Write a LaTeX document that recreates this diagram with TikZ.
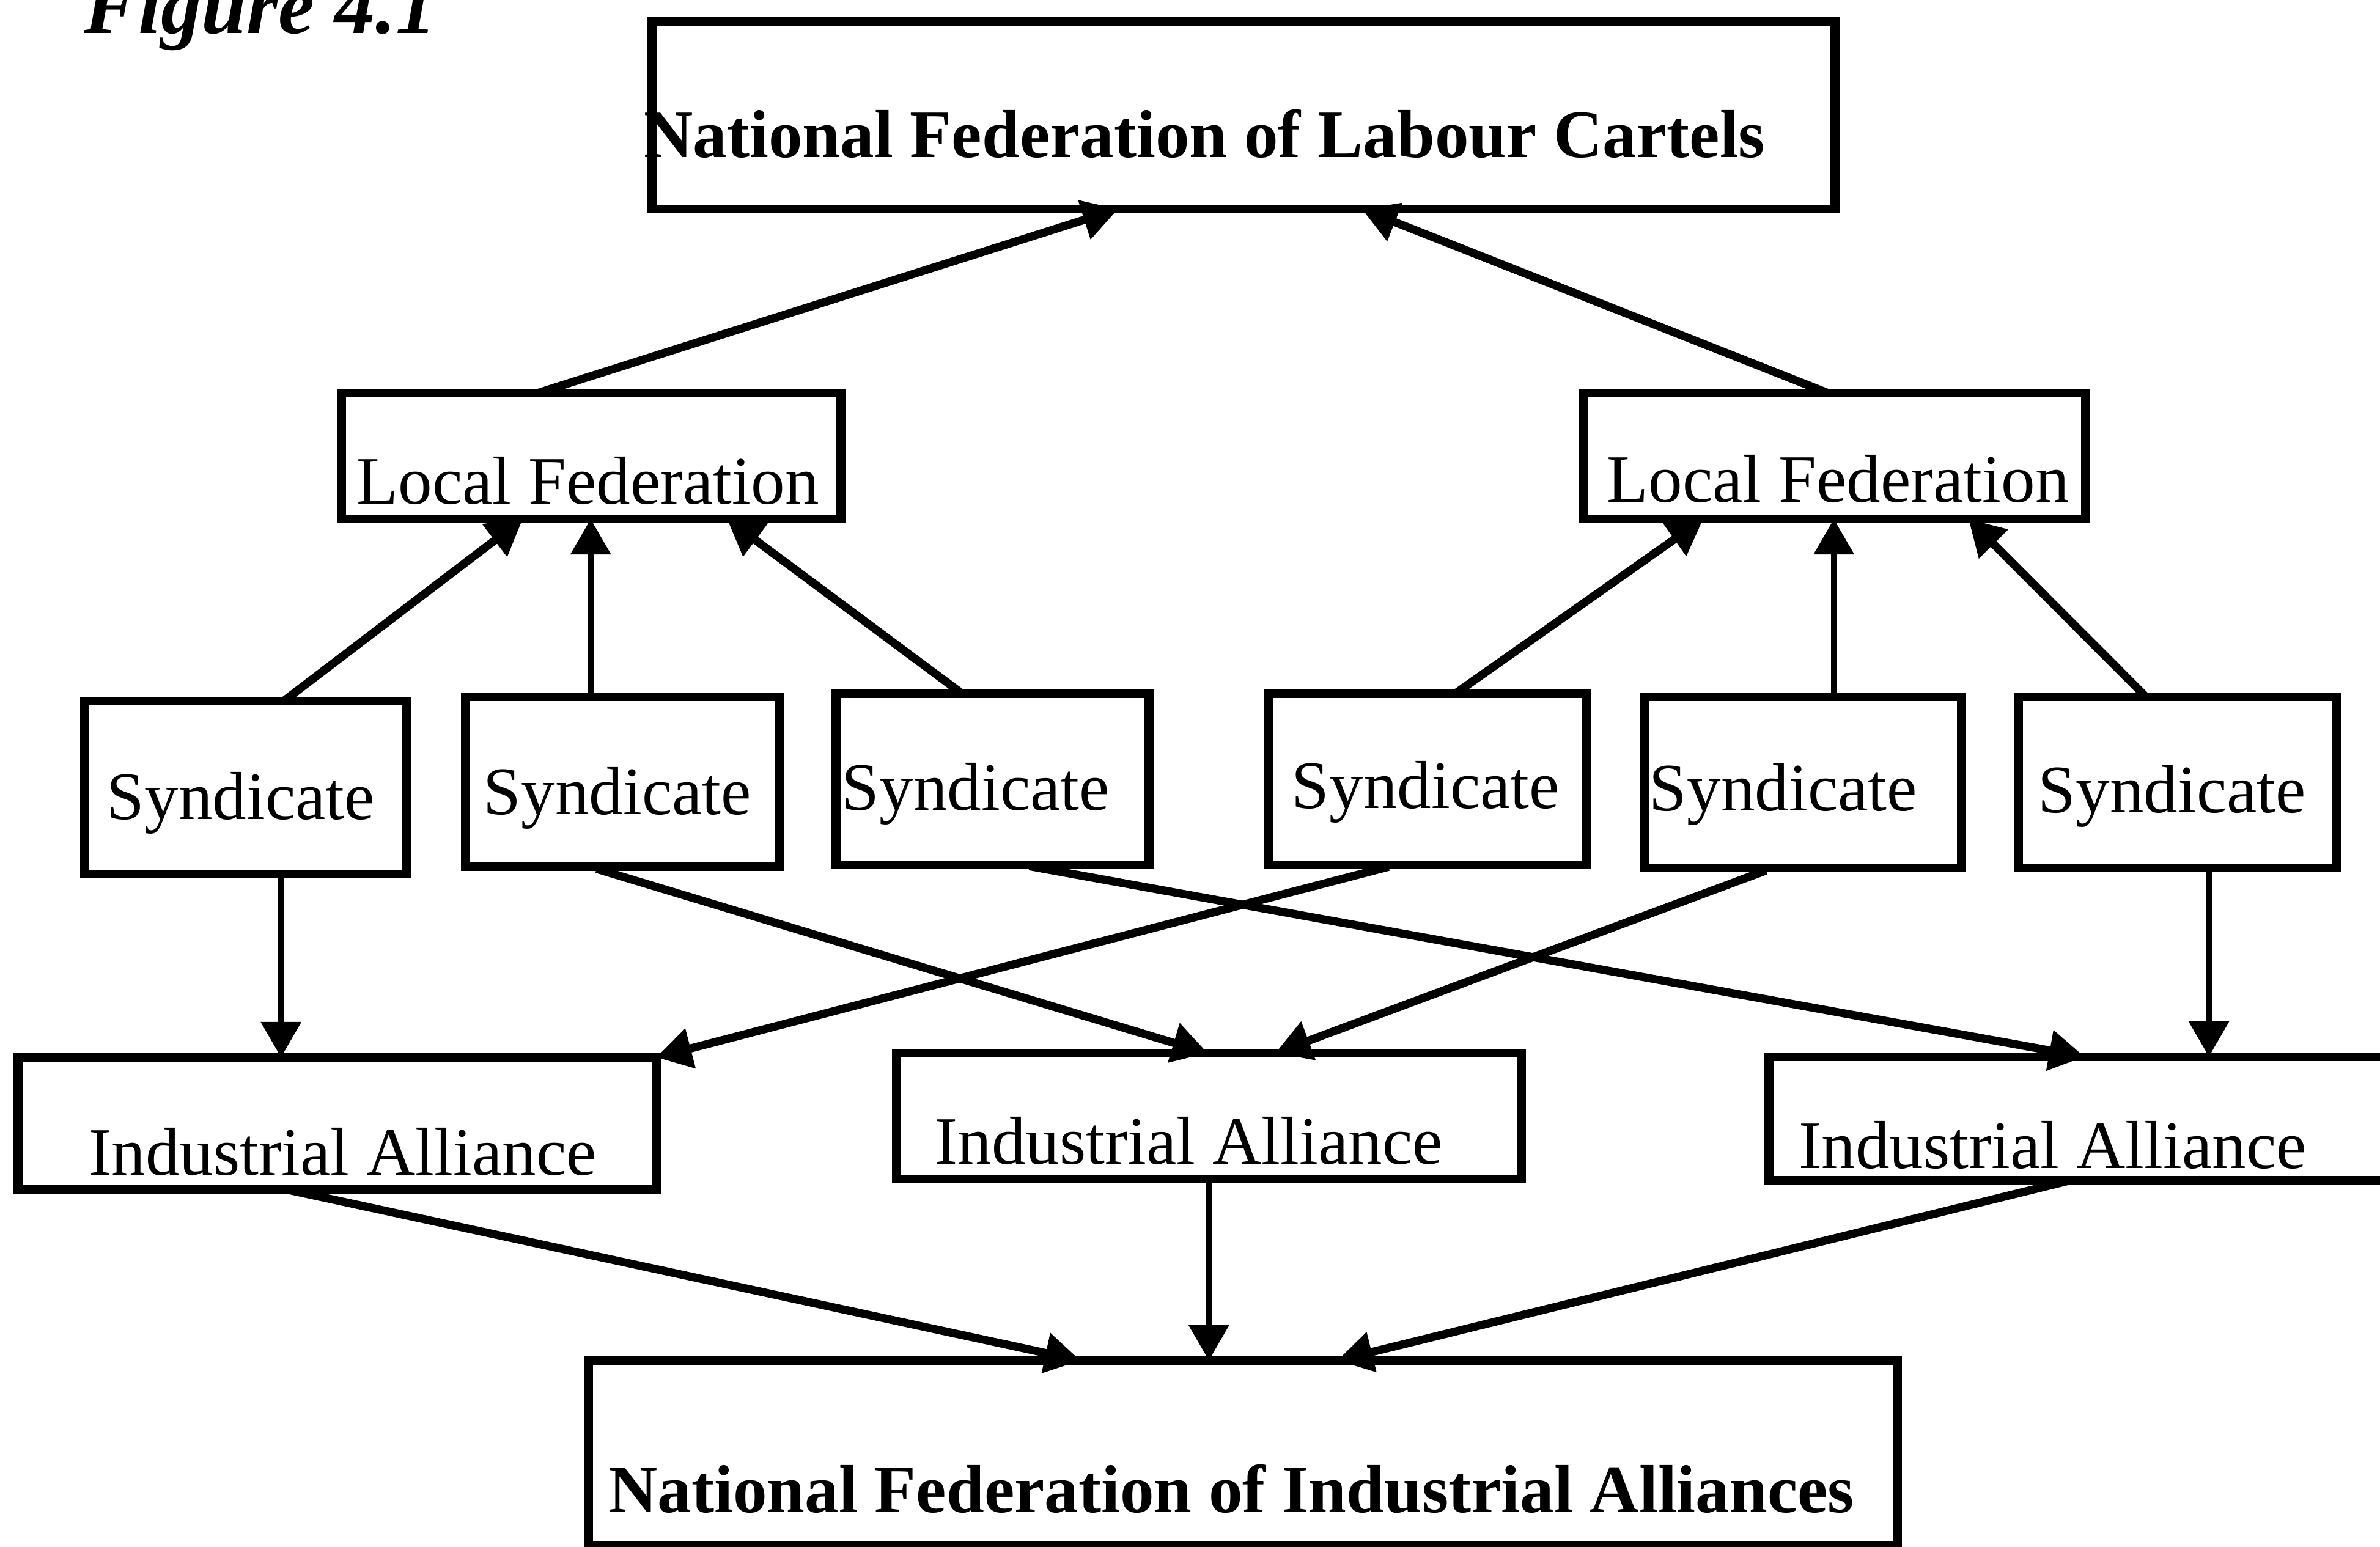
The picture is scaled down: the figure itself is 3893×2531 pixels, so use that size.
\documentclass[tikz,border=0pt]{standalone}
\usepackage{fontspec}
\setmainfont{Liberation Serif}
\usetikzlibrary{arrows.meta,calc}

\begin{document}
\begin{tikzpicture}[x=0.01cm,y=-0.01cm,
  box/.style={draw, line width=4.2pt, rectangle, inner sep=0pt, outer sep=0pt},
  lbl/.style={anchor=base west, inner sep=0pt, font=\fontsize{31.6}{38}\selectfont},
  boldlbl/.style={anchor=base west, inner sep=0pt, font=\fontsize{31.6}{38}\selectfont\bfseries},
  link/.style={line width=3.8pt, -{Triangle[length=0.58cm,width=0.64cm]}},
  vlink/.style={line width=2.8pt, -{Triangle[length=0.58cm,width=0.64cm]}},
  gapped/.style={shorten <=0.12cm},
]
\useasboundingbox (0,0) rectangle (3893,2531);
\clip (0,0) rectangle (3893,2531);

% caption
\node[anchor=base west, inner sep=0pt, font=\fontsize{37.8}{44}\selectfont\bfseries\itshape] (fig) at (137,55) {Figure 4.1};

% boxes
\node[box, minimum width=19.34cm, minimum height=3.07cm] (top) at (2034,188.5) {};
\node[box, minimum width=8.16cm, minimum height=2.06cm] (lfl) at (967,746) {};
\node[box, minimum width=8.21cm, minimum height=2.06cm] (lfr) at (3000.5,746) {};
\node[box, minimum width=5.26cm, minimum height=2.83cm] (s1) at (402,1288.5) {};
\node[box, minimum width=5.12cm, minimum height=2.78cm] (s2) at (1018,1279) {};
\node[box, minimum width=5.11cm, minimum height=2.80cm] (s3) at (1623.5,1275) {};
\node[box, minimum width=5.19cm, minimum height=2.80cm] (s4) at (2335.5,1275) {};
\node[box, minimum width=5.17cm, minimum height=2.80cm] (s5) at (2949.5,1280) {};
\node[box, minimum width=5.19cm, minimum height=2.80cm] (s6) at (3561.5,1280) {};
\node[box, minimum width=10.43cm, minimum height=2.16cm] (ia1) at (551.5,1838) {};
\node[box, minimum width=10.21cm, minimum height=2.06cm] (ia2) at (1977.5,1826) {};
\node[box, minimum width=10.36cm, minimum height=2.02cm] (ia3) at (3412,1830) {};
\node[box, minimum width=21.40cm, minimum height=3.02cm] (bot) at (2033,2377) {};

% labels
\node[boldlbl] (topT) at (1053,258) {National Federation of Labour Cartels};
\node[lbl] (lflT) at (583,824) {Local Federation};
\node[lbl] (lfrT) at (2628,822) {Local Federation};
\node[lbl] (s1T) at (174,1340) {Syndicate};
\node[lbl] (s2T) at (790,1332) {Syndicate};
\node[lbl] (s3T) at (1376,1325) {Syndicate};
\node[lbl] (s4T) at (2112,1322) {Syndicate};
\node[lbl] (s5T) at (2697,1326) {Syndicate};
\node[lbl] (s6T) at (3333,1329) {Syndicate};
\node[lbl] (ia1T) at (145,1922) {Industrial Alliance};
\node[lbl] (ia2T) at (1529,1904) {Industrial Alliance};
\node[lbl] (ia3T) at (2942,1911) {Industrial Alliance};
\node[boldlbl] (botT) at (995,2474) {National Federation of Industrial Alliances};

% local federations up to the national federation of labour cartels
\draw[link] ($(lfl.north west)!0.393!(lfl.north east)$) -- ($(top.south west)!0.394!(top.south east)$);
\draw[link] ($(lfr.north west)!0.487!(lfr.north east)$) -- ($(top.south west)!0.600!(top.south east)$);

% syndicates up to the local federations
\draw[link] ($(s1.north west)!0.618!(s1.north east)$) -- ($(lfl.south west)!0.363!(lfl.south east)$);
\coordinate (t2) at ($(lfl.south west)!0.499!(lfl.south east)$);
\draw[vlink] (t2 |- s2.north) -- (t2);
\draw[link] ($(s3.north west)!0.403!(s3.north east)$) -- ($(lfl.south west)!0.772!(lfl.south east)$);
\draw[link] ($(s4.north west)!0.586!(s4.north east)$) -- ($(lfr.south west)!0.239!(lfr.south east)$);
\coordinate (t5) at ($(lfr.south west)!0.499!(lfr.south east)$);
\draw[vlink] (t5 |- s5.north) -- (t5);
\draw[link] ($(s6.north west)!0.401!(s6.north east)$) -- ($(lfr.south west)!0.767!(lfr.south east)$);

% syndicates down to the industrial alliances
\coordinate (d1) at ($(ia1.north west)!0.412!(ia1.north east)$);
\draw[vlink] (d1 |- s1.south) -- (d1);
\draw[link, gapped] ($(s2.south west)!0.395!(s2.south east)$) -- ($(ia2.north west)!0.498!(ia2.north east)$);
\draw[link, gapped] ($(s3.south west)!0.595!(s3.south east)$) -- ($(ia3.north west)!0.498!(ia3.north east)$);
\draw[link, gapped] ($(s4.south west)!0.399!(s4.south east)$) -- (ia1.north east);
\draw[link, gapped] ($(s5.south west)!0.404!(s5.south east)$) -- ($(ia2.north west)!0.606!(ia2.north east)$);
\coordinate (d6) at ($(ia3.north west)!0.694!(ia3.north east)$);
\draw[vlink] (d6 |- s6.south) -- (d6);

% industrial alliances down to the national federation of industrial alliances
\draw[link] ($(ia1.south west)!0.42!(ia1.south east)$) -- ($(bot.north west)!0.376!(bot.north east)$);
\coordinate (b2) at ($(bot.north west)!0.474!(bot.north east)$);
\draw[vlink] (b2 |- ia2.south) -- (b2);
\draw[link] ($(ia3.south west)!0.476!(ia3.south east)$) -- ($(bot.north west)!0.572!(bot.north east)$);
\end{tikzpicture}
\end{document}
